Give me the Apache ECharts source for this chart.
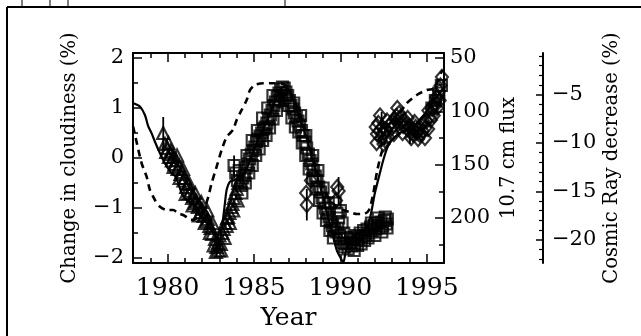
<!DOCTYPE html>
<html>
<head>
<meta charset="utf-8">
<script src="https://cdn.jsdelivr.net/npm/echarts@6/dist/echarts.min.js"></script>
<style>
  html, body { margin: 0; padding: 0; background: #fff; }
  #chart { width: 641px; height: 336px; }
</style>
</head>
<body>
<div id="chart"></div>
<script>
// tick values
const yearTicks = [1980, 1985, 1990, 1995];
const yearMinor = [1978, 1979, 1981, 1982, 1983, 1984, 1986, 1987, 1988, 1989, 1991, 1992, 1993, 1994, 1996];
const cloudTicks = [-2, -1, 0, 1, 2];
const cloudMinor = [-1.5, -0.5, 0.5, 1.5];
const fluxTicks = [50, 100, 150, 200];
const fluxMinor = [75, 125, 175, 225];
const crTicks = [-20, -15, -10, -5];
const crMinor = [-22, -21, -19, -18, -17, -16, -14, -13, -12, -11, -9, -8, -7, -6, -4, -3, -2, -1];

// cosmic ray decrease (solid line, right outer axis)
const crYears = [1978.02, 1978.41, 1978.69, 1978.89, 1979.08, 1979.27, 1979.56, 1979.85, 1980.24, 1980.43,
  1980.62, 1980.82, 1981.01, 1981.49, 1981.78, 1982.27, 1982.65, 1982.99, 1983.13, 1983.32,
  1983.42, 1983.61, 1983.90, 1984.25, 1984.54, 1984.83, 1985.12, 1985.47, 1985.81, 1986.16,
  1986.45, 1986.74, 1987.03, 1987.32, 1987.61, 1987.90, 1988.19, 1988.48, 1988.77, 1989.05,
  1989.28, 1989.52, 1989.79, 1990.08, 1990.17, 1990.33, 1990.56, 1990.90, 1991.25, 1991.54,
  1991.77, 1992.00, 1992.29, 1992.52, 1992.76, 1993.05, 1993.45, 1993.91, 1994.38, 1994.84,
  1995.30, 1995.65, 1995.94];
const crDecrease = [-5.9, -6.25, -7.11, -8.32, -9.0, -9.87, -11.06, -12.10, -13.13, -13.41,
  -14.17, -15.20, -15.72, -16.41, -17.27, -18.30, -19.17, -20.02, -18.99, -16.23,
  -14.86, -14.0, -13.82, -13.62, -12.79, -11.55, -10.21, -8.86, -7.42, -5.87,
  -4.73, -4.21, -4.52, -5.87, -7.31, -8.66, -10.41, -12.27, -14.13, -15.89,
  -17.65, -19.20, -21.06, -22.09, -22.40, -21.06, -20.02, -19.51, -19.20, -18.78,
  -17.34, -15.17, -13.10, -11.55, -10.31, -9.59, -8.97, -8.55, -8.04, -7.11,
  -5.97, -5.04, -4.32];

// 10.7 cm flux (dashed line, inverted right axis)
const fluxYears = [1978.0, 1978.12, 1978.31, 1978.50, 1978.79, 1978.98, 1979.27, 1979.56, 1979.95, 1980.33,
  1980.62, 1980.91, 1981.20, 1981.49, 1981.69, 1981.98, 1982.17, 1982.36, 1982.55, 1982.84,
  1983.13, 1983.42, 1983.61, 1983.80, 1984.00, 1984.29, 1984.58, 1984.77, 1985.06, 1985.54,
  1986.12, 1986.68, 1986.97, 1987.32, 1987.66, 1988.01, 1988.36, 1988.71, 1989.05, 1989.40,
  1989.75, 1990.15, 1990.56, 1990.96, 1991.37, 1991.66, 1991.89, 1992.12, 1992.35, 1992.64,
  1992.99, 1993.34, 1993.84, 1994.42, 1995.00, 1995.48, 1995.65, 1995.82, 1995.94];
const flux = [114, 122.2, 136.2, 148.7, 161.3, 173.7, 183.1, 189.4, 192.5, 192.5,
  195.6, 197.2, 200.3, 201.9, 200.3, 195.6, 189.4, 180.0, 167.5, 151.9,
  136.2, 123.8, 120.6, 117, 108.1, 98.7, 89.4, 80.0, 75.3, 73.7,
  73.7, 74.4, 78.1, 89.4, 103.4, 120.3, 140.9, 159.7, 173.7, 183.1,
  188.7, 192.5, 194.4, 196.3, 196.3, 192.5, 178.4, 156.9, 140.9, 126.9,
  115.6, 104.4, 92.5, 84.7, 80.0, 78.4, 70.6, 64.1, 61.2];

// cloudiness, triangles
const triYears = [1979.75, 1979.85, 1979.92, 1980.00, 1980.08, 1980.17, 1980.25, 1980.33, 1980.42, 1980.50,
  1980.58, 1980.67, 1980.75, 1980.83, 1980.92, 1981.00, 1981.08, 1981.17, 1981.25, 1981.33,
  1981.42, 1981.50, 1981.58, 1981.67, 1981.75, 1981.83, 1981.92, 1982.00, 1982.08, 1982.17,
  1982.25, 1982.33, 1982.42, 1982.50, 1982.58, 1982.67, 1982.75, 1982.83, 1982.92, 1983.00,
  1983.08, 1983.17, 1983.25, 1983.33, 1983.42, 1983.50, 1983.58, 1983.67, 1983.75, 1983.83,
  1983.92, 1984.00, 1984.10, 1984.20,
  1980.05, 1980.20, 1980.35, 1980.55, 1980.70, 1980.90, 1981.05, 1981.25, 1981.45, 1981.60,
  1981.80, 1981.95, 1982.15, 1982.30, 1982.45, 1982.60, 1982.80, 1982.95, 1983.10, 1983.30,
  1983.45, 1983.60, 1983.80, 1984.05];
const triCloud = [0.50, 0.28, 0.12, 0.20, 0.02, 0.08, -0.05, 0.02, -0.12, -0.04,
  -0.22, -0.15, -0.32, -0.28, -0.45, -0.40, -0.58, -0.52, -0.70, -0.66,
  -0.80, -0.76, -0.90, -0.86, -0.98, -0.94, -1.08, -1.02, -1.16, -1.12,
  -1.26, -1.22, -1.36, -1.40, -1.52, -1.75, -1.62, -1.78, -1.70, -1.55,
  -1.72, -1.50, -1.42, -1.30, -1.36, -1.18, -1.10, -0.98, -0.92, -0.80,
  -0.70, -0.62, -0.50, -0.45,
  0.30, 0.15, -0.18, 0.05, -0.40, -0.22, -0.72, -0.50, -0.95, -0.70,
  -1.15, -0.88, -1.30, -1.05, -1.50, -1.30, -1.88, -1.85, -1.85, -1.60,
  -1.20, -1.30, -1.05, -0.85];

// cloudiness, squares
const sqYears = [1983.85, 1983.95, 1984.05, 1984.15, 1984.25, 1984.35, 1984.45, 1984.55, 1984.65, 1984.75,
  1984.85, 1984.95, 1985.05, 1985.15, 1985.25, 1985.35, 1985.45, 1985.55, 1985.65, 1985.75,
  1985.85, 1985.95, 1986.05, 1986.15, 1986.25, 1986.35, 1986.45, 1986.55, 1986.65, 1986.75,
  1986.85, 1986.95, 1987.05, 1987.15, 1987.25, 1987.35, 1987.45, 1987.55, 1987.65, 1987.75,
  1987.85, 1987.95, 1988.05, 1988.15, 1988.25, 1988.35, 1988.45, 1988.55, 1988.65, 1988.75,
  1988.85, 1988.95, 1989.05, 1989.15, 1989.25, 1989.35, 1989.45, 1989.55, 1989.65, 1989.75,
  1989.85, 1989.95, 1990.05, 1990.15, 1990.25, 1990.35, 1990.45, 1990.55, 1990.65, 1990.75,
  1990.85, 1990.95, 1991.05, 1991.15, 1991.25, 1991.35, 1991.45, 1991.55, 1991.65, 1991.75,
  1991.85, 1991.95, 1992.05, 1992.15, 1992.25, 1992.35, 1992.45, 1992.55, 1992.65, 1992.72,
  1989.70, 1989.80, 1989.90, 1990.00, 1990.10, 1995.30, 1995.50, 1995.70, 1995.85,
  1984.30, 1984.50, 1984.70, 1984.90, 1985.10, 1985.30, 1985.50, 1985.70, 1985.90, 1986.10,
  1986.30, 1986.50, 1986.60, 1986.80, 1987.00, 1987.20, 1987.40, 1987.60, 1987.80, 1988.00,
  1988.20, 1988.40, 1988.60, 1988.80, 1989.00, 1989.20, 1989.40, 1989.60, 1990.20, 1990.40,
  1990.60, 1990.80, 1991.00, 1991.20, 1991.40, 1991.60, 1991.80, 1992.00, 1992.20, 1992.40,
  1992.60, 1992.70,
  1984.60, 1984.90, 1985.20, 1985.50, 1985.80, 1986.10, 1987.30, 1987.70, 1988.00, 1988.40,
  1988.70, 1989.00, 1989.30];
const sqCloud = [-0.15, -0.30, -0.45, -0.25, -0.55, -0.40, -0.35, -0.20, -0.12, -0.02,
  0.08, 0.15, 0.22, 0.32, 0.38, 0.44, 0.50, 0.58, 0.62, 0.70,
  0.78, 0.86, 0.95, 1.05, 1.12, 1.22, 1.30, 1.38, 1.42, 1.40,
  1.32, 1.25, 1.15, 1.05, 0.98, 0.90, 0.82, 0.74, 0.66, 0.55,
  0.45, 0.32, 0.20, 0.08, -0.05, -0.12, -0.25, -0.36, -0.45, -0.58,
  -0.68, -0.80, -0.90, -1.00, -1.10, -1.18, -1.28, -1.35, -1.42, -1.48,
  -1.40, -1.55, -1.62, -1.70, -1.78, -1.72, -1.82, -1.70, -1.76, -1.62,
  -1.70, -1.55, -1.62, -1.50, -1.58, -1.45, -1.55, -1.42, -1.50, -1.38,
  -1.46, -1.35, -1.42, -1.30, -1.40, -1.28, -1.36, -1.25, -1.32, -1.22,
  -0.90, -1.10, -1.20, -1.05, -1.30, 1.00, 1.15, 1.30, 1.45,
  -0.70, -0.50, -0.30, -0.15, 0.05, 0.18, 0.35, 0.45, 0.60, 0.78,
  0.95, 1.15, 1.25, 1.20, 1.05, 0.80, 0.62, 0.52, 0.30, 0.05,
  -0.22, -0.40, -0.62, -0.85, -1.10, -1.25, -1.45, -1.60, -1.50, -1.60,
  -1.58, -1.85, -1.75, -1.72, -1.65, -1.60, -1.30, -1.55, -1.20, -1.48,
  -1.18, -1.40,
  0.05, 0.35, 0.55, 0.80, 1.00, 1.25, 1.10, 0.85, 0.45, 0.05,
  -0.25, -0.60, -0.90];

// cloudiness, diamonds
const diaYears = [1988.02, 1988.06, 1988.30, 1989.75, 1989.82, 1989.90,
  1992.05, 1992.12, 1992.20, 1992.28, 1992.36, 1992.44, 1992.52, 1992.60, 1992.68, 1992.76,
  1992.84, 1992.92, 1993.00, 1993.08, 1993.16, 1993.24, 1993.32, 1993.40, 1993.48, 1993.56,
  1993.64, 1993.72, 1993.80, 1993.88, 1993.96, 1994.04, 1994.12, 1994.20, 1994.28, 1994.36,
  1994.44, 1994.52, 1994.60, 1994.68, 1994.76, 1994.84, 1994.92, 1995.00, 1995.08, 1995.16,
  1995.24, 1995.32, 1995.40, 1995.48, 1995.56, 1995.64, 1995.72, 1995.80, 1995.88,
  1992.10, 1992.30, 1992.50, 1992.70, 1993.10, 1993.30, 1993.60, 1993.90, 1994.10, 1994.30,
  1994.50, 1994.70, 1994.90, 1995.10, 1995.40, 1995.60, 1995.75];
const diaCloud = [-0.70, -0.94, -0.45, -0.85, -0.58, -0.66,
  0.62, 0.48, 0.70, 0.55, 0.40, 0.62, 0.50, 0.35, 0.55, 0.42,
  0.66, 0.58, 0.72, 0.64, 0.78, 0.84, 0.74, 0.90, 0.82, 0.72,
  0.64, 0.76, 0.68, 0.58, 0.64, 0.52, 0.60, 0.48, 0.56, 0.62,
  0.50, 0.58, 0.46, 0.66, 0.54, 0.72, 0.60, 0.74, 0.58, 0.82,
  0.76, 0.98, 1.06, 1.10, 1.22, 1.20, 1.34, 1.45, 1.62,
  0.30, 0.85, 0.28, 0.75, 0.48, 1.00, 0.50, 0.80, 0.40, 0.72,
  0.38, 0.48, 0.40, 0.95, 0.85, 1.00, 1.15];

// error bars on a few cloudiness points
const errYears = [1979.75, 1982.84, 1983.85, 1988.06, 1989.90, 1992.39, 1994.03];
const errLow = [0.18, -1.98, -0.40, -1.25, -0.95, 0.22, 0.28];
const errHigh = [0.82, -1.55, 0.05, -0.62, -0.38, 0.92, 0.65];

const zip = (a, b) => a.map((v, i) => [v, b[i]]);
const minus = v => String(v).replace('-', '\u2212');
const FONT = 'DejaVu Serif';
const black = '#000';

function tickAxis(extra) {
  return Object.assign({
    type: 'value',
    gridIndex: 0,
    axisLine: {show: false, onZero: false},
    axisLabel: {show: false},
    splitLine: {show: false},
    axisTick: {show: true, inside: true, length: 5, lineStyle: {color: black, width: 1.5}}
  }, extra);
}

const chart = echarts.init(document.getElementById('chart'), null, {renderer: 'canvas'});

const option = {
  backgroundColor: '#fff',
  animation: false,
  grid: {left: 133, top: 53, width: 311, height: 210},
  xAxis: [
    {
      type: 'value', min: 1978, max: 1996, position: 'bottom',
      axisLine: {show: true, onZero: false, lineStyle: {color: black, width: 2}},
      axisTick: {show: true, inside: true, length: 9, customValues: yearTicks, lineStyle: {color: black, width: 1.5}},
      axisLabel: {customValues: yearTicks, formatter: v => String(v), color: black, fontFamily: FONT, fontSize: 25, margin: 13},
      splitLine: {show: false},
      name: 'Year', nameLocation: 'middle', nameGap: 42,
      nameTextStyle: {color: black, fontFamily: FONT, fontSize: 25}
    },
    tickAxis({min: 1978, max: 1996, position: 'bottom', axisTick: {show: true, inside: true, length: 5, customValues: yearMinor, lineStyle: {color: black, width: 1.5}}}),
    {
      type: 'value', min: 1978, max: 1996, position: 'top',
      axisLine: {show: true, onZero: false, lineStyle: {color: black, width: 2}},
      axisTick: {show: true, inside: true, length: 9, customValues: yearTicks, lineStyle: {color: black, width: 1.5}},
      axisLabel: {show: false},
      splitLine: {show: false}
    },
    tickAxis({min: 1978, max: 1996, position: 'top', axisTick: {show: true, inside: true, length: 5, customValues: yearMinor, lineStyle: {color: black, width: 1.5}}})
  ],
  yAxis: [
    {
      type: 'value', min: -2.1, max: 2.1, position: 'left',
      axisLine: {show: true, onZero: false, lineStyle: {color: black, width: 2}},
      axisTick: {show: true, inside: true, length: 9, customValues: cloudTicks, lineStyle: {color: black, width: 1.5}},
      axisLabel: {customValues: cloudTicks, formatter: minus, color: black, fontFamily: FONT, fontSize: 21, margin: 9},
      splitLine: {show: false},
      name: 'Change in cloudiness (%)', nameLocation: 'middle', nameGap: 53,
      nameTextStyle: {color: black, fontFamily: FONT, fontSize: 19.5}
    },
    tickAxis({min: -2.1, max: 2.1, position: 'left', axisTick: {show: true, inside: true, length: 5, customValues: cloudMinor, lineStyle: {color: black, width: 1.5}}}),
    {
      type: 'value', min: 45.3, max: 242.2, inverse: true, position: 'right',
      axisLine: {show: true, onZero: false, lineStyle: {color: black, width: 2}},
      axisTick: {show: true, inside: true, length: 9, customValues: fluxTicks, lineStyle: {color: black, width: 1.5}},
      axisLabel: {customValues: fluxTicks, color: black, fontFamily: FONT, fontSize: 21, margin: 6},
      splitLine: {show: false},
      name: '10.7 cm flux', nameLocation: 'middle', nameGap: 55,
      nameTextStyle: {color: black, fontFamily: FONT, fontSize: 19.5}
    },
    tickAxis({min: 45.3, max: 242.2, inverse: true, position: 'right', axisTick: {show: true, inside: true, length: 5, customValues: fluxMinor, lineStyle: {color: black, width: 1.5}}}),
    {
      type: 'value', min: -22.4, max: -0.7, position: 'right', offset: 99,
      axisLine: {show: true, onZero: false, lineStyle: {color: black, width: 2}},
      axisTick: {show: true, inside: true, length: 7, customValues: crTicks, lineStyle: {color: black, width: 1.5}},
      axisLabel: {customValues: crTicks, formatter: minus, color: black, fontFamily: FONT, fontSize: 21, margin: 9},
      splitLine: {show: false},
      name: 'Cosmic Ray decrease (%)', nameLocation: 'middle', nameGap: 59,
      nameTextStyle: {color: black, fontFamily: FONT, fontSize: 19.5}
    },
    tickAxis({min: -22.4, max: -0.7, position: 'right', offset: 99, axisTick: {show: true, inside: true, length: 4, customValues: crMinor, lineStyle: {color: black, width: 1.2}}})
  ],
  series: [
    {
      name: 'cosmic rays', type: 'line', xAxisIndex: 0, yAxisIndex: 4,
      data: zip(crYears, crDecrease), showSymbol: false, smooth: 0.25,
      lineStyle: {color: black, width: 2.2}, z: 3
    },
    {
      name: '10.7 cm flux', type: 'line', xAxisIndex: 0, yAxisIndex: 2,
      data: zip(fluxYears, flux), showSymbol: false, smooth: 0.25,
      lineStyle: {color: black, width: 2.6, type: [7, 5]}, z: 3
    },
    {
      name: 'triangles', type: 'scatter', xAxisIndex: 0, yAxisIndex: 0,
      data: zip(triYears, triCloud), symbol: 'triangle', symbolSize: 12,
      itemStyle: {color: 'rgba(0,0,0,0)', borderColor: black, borderWidth: 2.2}, z: 4
    },
    {
      name: 'squares', type: 'scatter', xAxisIndex: 0, yAxisIndex: 0,
      data: zip(sqYears, sqCloud), symbol: 'rect', symbolSize: 11,
      itemStyle: {color: 'rgba(0,0,0,0)', borderColor: black, borderWidth: 2.2}, z: 4
    },
    {
      name: 'diamonds', type: 'scatter', xAxisIndex: 0, yAxisIndex: 0,
      data: zip(diaYears, diaCloud), symbol: 'diamond', symbolSize: [12, 14],
      itemStyle: {color: 'rgba(0,0,0,0)', borderColor: black, borderWidth: 2.2}, z: 4
    },
    {
      name: 'error bars', type: 'custom', xAxisIndex: 0, yAxisIndex: 0,
      data: errYears.map((y, i) => [y, errLow[i], errHigh[i]]),
      encode: {x: 0, y: [1, 2]},
      renderItem: function (params, api) {
        const p1 = api.coord([api.value(0), api.value(1)]);
        const p2 = api.coord([api.value(0), api.value(2)]);
        return {
          type: 'line',
          shape: {x1: p1[0], y1: p1[1], x2: p2[0], y2: p2[1]},
          style: {stroke: black, lineWidth: 1.8}
        };
      },
      z: 5
    }
  ],
  graphic: [
    // outer frame of the figure panel
    {type: 'line', shape: {x1: 7, y1: 7, x2: 7, y2: 336}, style: {stroke: black, lineWidth: 2}},
    {type: 'line', shape: {x1: 7, y1: 7, x2: 641, y2: 7}, style: {stroke: black, lineWidth: 2}},
    {type: 'line', shape: {x1: 22, y1: 0, x2: 22, y2: 7}, style: {stroke: black, lineWidth: 1}},
    {type: 'line', shape: {x1: 50, y1: 0, x2: 50, y2: 7}, style: {stroke: black, lineWidth: 1}},
    {type: 'line', shape: {x1: 68, y1: 0, x2: 68, y2: 7}, style: {stroke: black, lineWidth: 1}},
    {type: 'line', shape: {x1: 285, y1: 0, x2: 285, y2: 7}, style: {stroke: black, lineWidth: 1}}
  ]
};

chart.setOption(option);
</script>
</body>
</html>
